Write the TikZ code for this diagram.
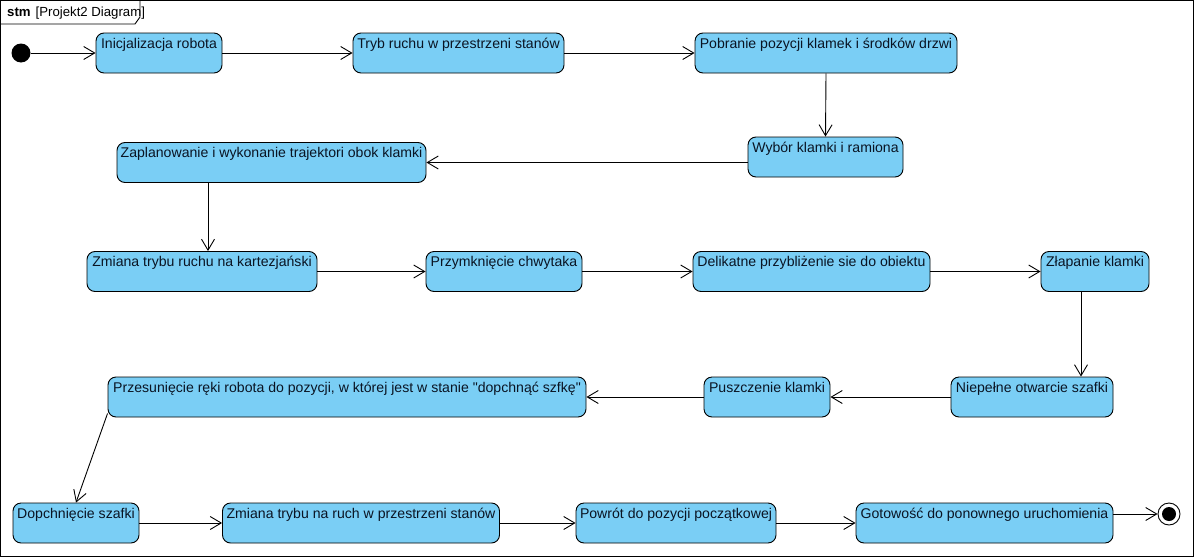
\documentclass[tikz,border=0pt]{standalone}
\usepackage{fontspec}
\setmainfont{Liberation Sans}
\usetikzlibrary{arrows.meta,calc}
\definecolor{stblue}{RGB}{122,206,245}
\definecolor{sttext}{RGB}{10,20,35}
\tikzset{
  stbox/.style={draw=black, fill=stblue, rounded corners=8pt, line width=0.9pt,
    inner xsep=2pt, inner ysep=0pt, text height=15pt, text depth=25pt,
    text=sttext, font=\fontsize{14.1}{16}\selectfont},
  conn/.style={line width=0.9pt, -{Straight Barb[length=11pt,width=13pt,line width=0.9pt]}},
  frameline/.style={line width=0.9pt, draw=black}
}
\begin{document}
\begin{tikzpicture}[x=1pt,y=-1pt]
\useasboundingbox (0,0) rectangle (1194,557);
\fill[white] (0,0) rectangle (1194,557);
% frame
\draw[frameline] (0.5,0.5) rectangle (1193.5,556);
\draw[frameline] (0.5,24) -- (135,24) -- (140,17) -- (140,0.5);
\node[anchor=base west, inner sep=0pt, font=\fontsize{13.2}{15}\selectfont] (title) at (7,16) {\textbf{stm}\hspace{5pt}[Projekt2 Diagram]};

% initial / final
\node[circle, fill=black, minimum size=19pt, inner sep=0pt] (init) at (21,53) {};
\node[circle, draw=black, fill=white, line width=0.9pt, minimum size=22pt, inner sep=0pt] (fin) at (1169,514) {};
\node[circle, fill=black, minimum size=14pt, inner sep=0pt] (fininner) at (1169,514) {};

% row 1
\node[stbox, minimum width=126pt] (A) at (159,53) {Inicjalizacja robota};
\node[stbox, minimum width=211pt] (B) at (458.5,53) {Tryb ruchu w przestrzeni stanów};
\node[stbox, minimum width=262pt] (C) at (826,53) {Pobranie pozycji klamek i środków drzwi};
% row 2
\node[stbox, minimum width=155pt] (D) at (825.5,157) {Wybór klamki i ramiona};
\node[stbox, minimum width=309pt] (E) at (271.5,162.5) {Zaplanowanie i wykonanie trajektori obok klamki};
% row 3
\node[stbox, minimum width=230pt] (F) at (202,271.5) {Zmiana trybu ruchu na kartezjański};
\node[stbox, minimum width=156pt] (G) at (504,271.5) {Przymknięcie chwytaka};
\node[stbox, minimum width=237pt] (H) at (811.5,271.5) {Delikatne przybliżenie sie do obiektu};
\node[stbox, minimum width=108pt] (I) at (1095,271.5) {Złapanie klamki};
% row 4
\node[stbox, minimum width=162pt] (J) at (1032,397) {Niepełne otwarcie szafki};
\node[stbox, minimum width=126pt] (K) at (767,397) {Puszczenie klamki};
\node[stbox, minimum width=478pt] (L) at (347,397) {Przesunięcie ręki robota do pozycji, w której jest w stanie \textquotedbl dopchnąć szfkę\textquotedbl};
% row 5
\node[stbox, minimum width=126pt] (M) at (76,523) {Dopchnięcie szafki};
\node[stbox, minimum width=277pt] (N) at (361,523) {Zmiana trybu na ruch w przestrzeni stanów};
\node[stbox, minimum width=200pt] (O) at (676,523) {Powrót do pozycji początkowej};
\node[stbox, minimum width=257pt] (P) at (984.5,523) {Gotowość do ponownego uruchomienia};

% connectors
\draw[conn] (init.east) -- (A.west);
\draw[conn] (A.east) -- (B.west);
\draw[conn] (B.east) -- (C.west);
\draw[conn] (C.south) -- (D.north);
\draw[conn] (D.west |- E.east) -- (E.east);
\draw[conn] ([xshift=6pt]F.north |- E.south) -- ([xshift=6pt]F.north);
\draw[conn] (F.east) -- (G.west);
\draw[conn] (G.east) -- (H.west);
\draw[conn] (H.east) -- (I.west);
\draw[conn] ([xshift=-14pt]I.south) -- ([xshift=-14pt]I.south |- J.north);
\draw[conn] (J.west) -- (K.east);
\draw[conn] (K.west) -- (L.east);
\draw[conn] ([yshift=4pt]L.south west) -- (M.north);
\draw[conn] (M.east) -- (N.west);
\draw[conn] (N.east) -- (O.west);
\draw[conn] (O.east) -- (P.west);
\draw[conn] (P.east |- fin.west) -- (fin.west);
\end{tikzpicture}
\end{document}
